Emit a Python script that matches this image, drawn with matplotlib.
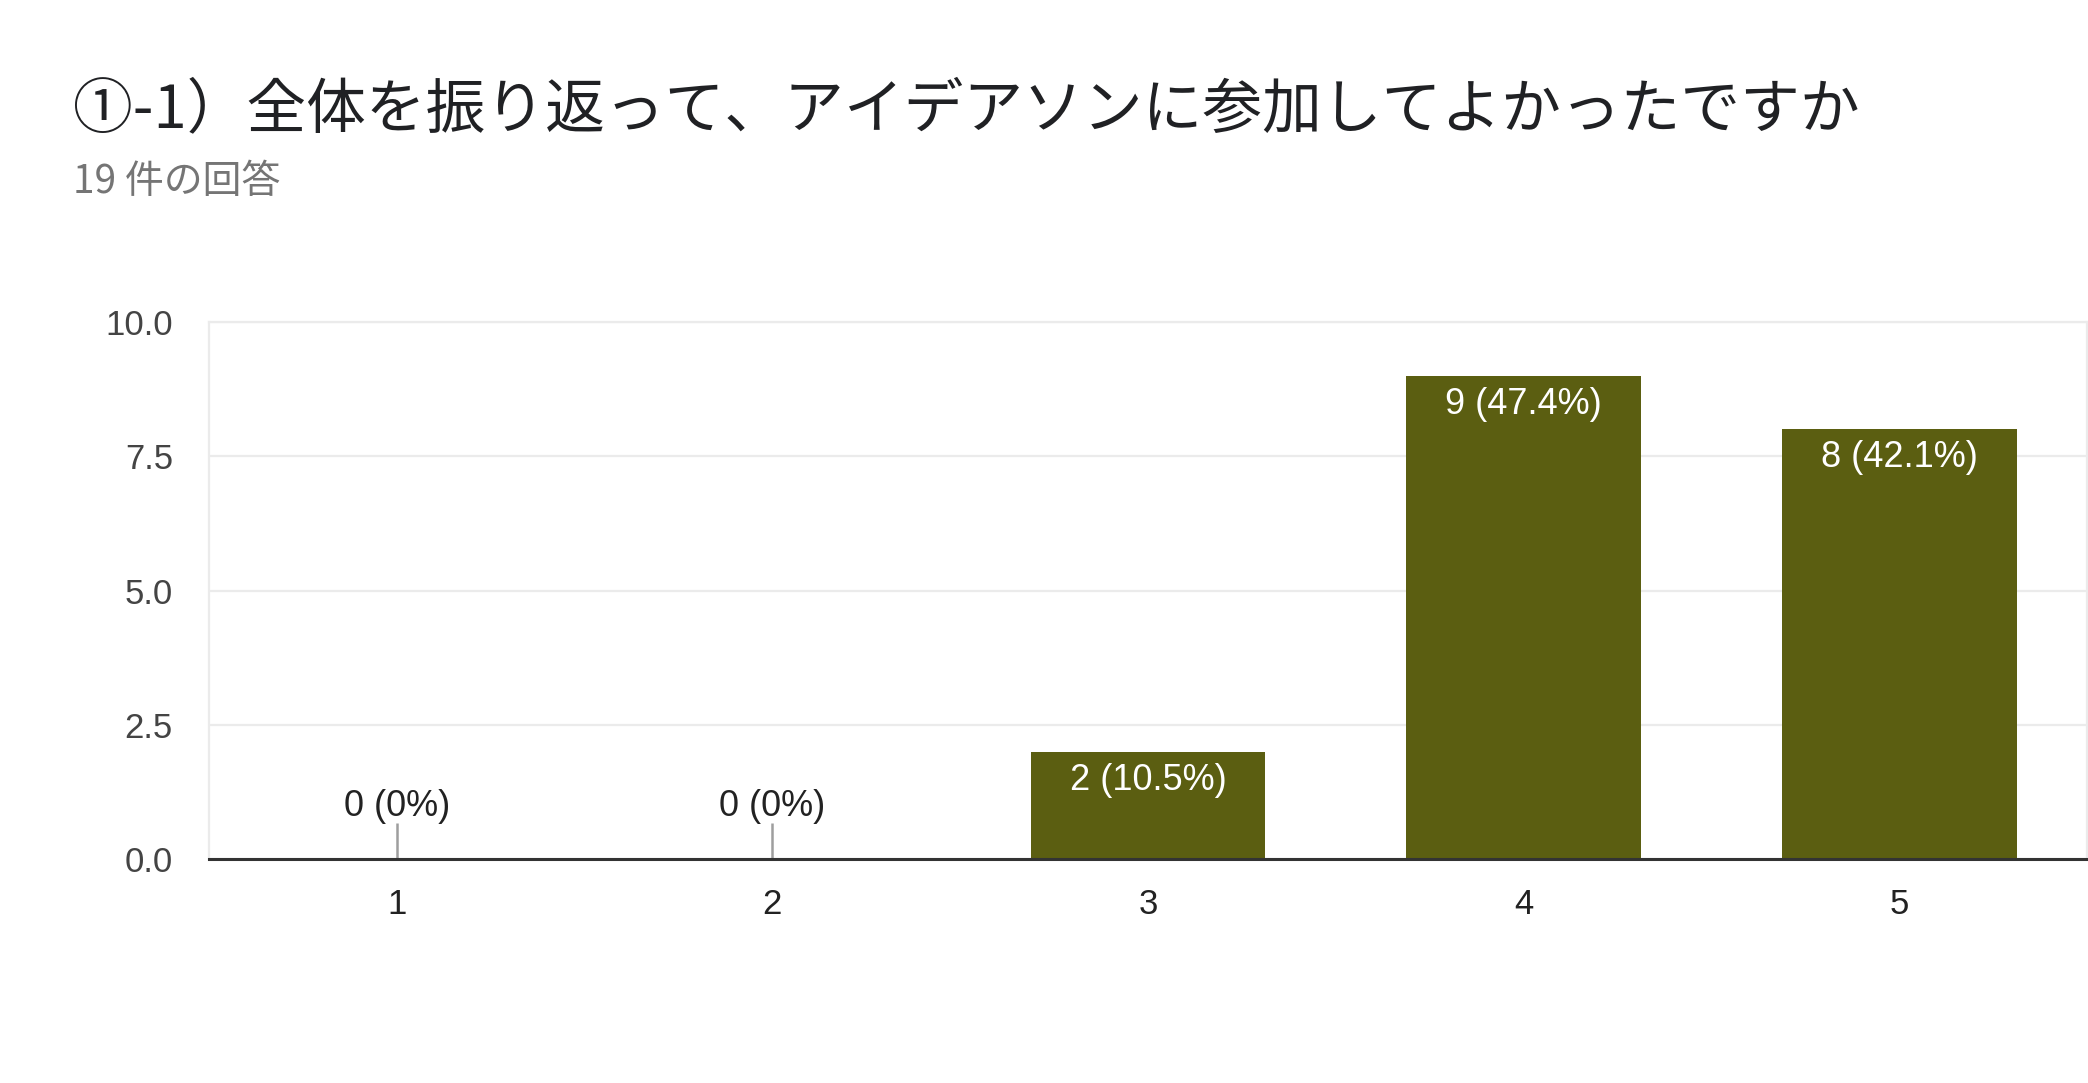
import matplotlib
matplotlib.use("Agg")
import matplotlib.pyplot as plt

# survey answers (1..5) and their counts
categories = ["1", "2", "3", "4", "5"]
counts = [0, 0, 2, 9, 8]
percents = ["0%", "0%", "10.5%", "47.4%", "42.1%"]
y_ticks = [0.0, 2.5, 5.0, 7.5, 10.0]

TITLE = "①-1）全体を振り返って、アイデアソンに参加してよかったですか"
SUBTITLE = "19 件の回答"

BAR_COLOR = "#5b5e11"
GRID_COLOR = "#ebebeb"
CJK = ["Noto Sans CJK JP", "DejaVu Sans"]

plt.rcParams["font.family"] = ["Liberation Sans", "DejaVu Sans"]


def main():
    fig = plt.figure(figsize=(20.88, 10.83), dpi=100)
    ax = fig.add_axes([0.1001, 0.2068, 0.8994, 0.4958])

    xs = list(range(len(categories)))
    ax.bar(xs, counts, width=0.625, color=BAR_COLOR, zorder=3)

    for x, c, p in zip(xs, counts, percents):
        label = f"{c} ({p})"
        if c > 0:
            ax.annotate(label, (x, c), xytext=(0, -20.5), textcoords="offset points",
                        ha="center", va="center", color="white", fontsize=26, zorder=4)
        else:
            # small grey stub for an empty bar
            ax.vlines(x, 0, 0.67, color="#9e9e9e", lw=1.8, zorder=3)
            ax.annotate(label, (x, 0), xytext=(0, 37.5), textcoords="offset points",
                        ha="center", va="center", color="#222222", fontsize=26, zorder=4)

    ax.set_xlim(-0.5, len(categories) - 0.5)
    ax.set_ylim(0, 10)
    ax.set_yticks(y_ticks)
    ax.set_yticklabels([f"{v:.1f}" for v in y_ticks])
    ax.set_xticks(xs)
    ax.set_xticklabels(categories)
    ax.tick_params(axis="y", length=0, pad=26, labelsize=25, labelcolor="#444444")
    ax.tick_params(axis="x", length=0, pad=21, labelsize=25, labelcolor="#222222")

    ax.grid(axis="y", color=GRID_COLOR, lw=1.6, zorder=0)
    for side in ("left", "right", "top"):
        ax.spines[side].set_color(GRID_COLOR)
        ax.spines[side].set_linewidth(1.6)
    ax.spines["bottom"].set_color("#333333")
    ax.spines["bottom"].set_linewidth(2.2)
    ax.spines["bottom"].set_zorder(5)

    fig.text(0.035, 0.898, TITLE, family=CJK, fontsize=43, color="#202124",
             ha="left", va="center")
    fig.text(0.035, 0.832, SUBTITLE, family=CJK, fontsize=28, color="#757575",
             ha="left", va="center")

    fig.savefig("out.png", dpi=100, facecolor="white")


if __name__ == "__main__":
    main()
